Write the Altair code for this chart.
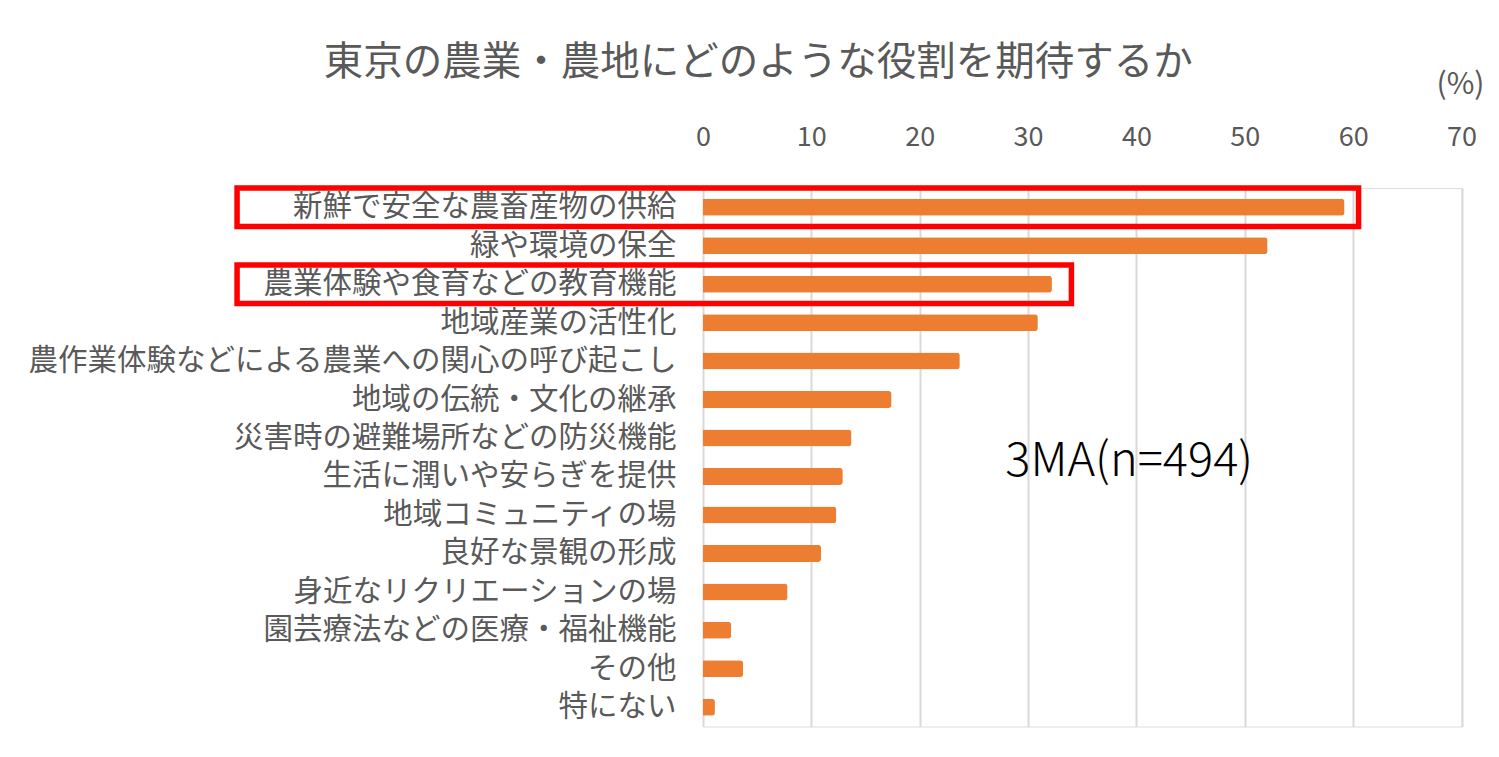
import altair as alt
import pandas as pd

categories = [
    "新鮮で安全な農畜産物の供給",
    "緑や環境の保全",
    "農業体験や食育などの教育機能",
    "地域産業の活性化",
    "農作業体験などによる農業への関心の呼び起こし",
    "地域の伝統・文化の継承",
    "災害時の避難場所などの防災機能",
    "生活に潤いや安らぎを提供",
    "地域コミュニティの場",
    "良好な景観の形成",
    "身近なリクリエーションの場",
    "園芸療法などの医療・福祉機能",
    "その他",
    "特にない",
]
values = [59.2, 52.1, 32.2, 30.9, 23.7, 17.4, 13.7, 12.9, 12.3, 10.9, 7.8, 2.6, 3.7, 1.1]
x_ticks = [0, 10, 20, 30, 40, 50, 60, 70]

highlight_categories = ["新鮮で安全な農畜産物の供給", "農業体験や食育などの教育機能"]
highlight_start = [-43.0, -43.0]
highlight_end = [60.5, 34.0]

note_text = ["3MA(n=494)"]
note_category = ["生活に潤いや安らぎを提供"]
note_x = [27.9]

title_text = "東京の農業・農地にどのような役割を期待するか"
unit_text = "(%)"

FONT = "Noto Sans CJK JP"
GRAY = "#595959"

bars_df = pd.DataFrame({"category": categories, "value": values})
hl_df = pd.DataFrame({"category": highlight_categories, "start": highlight_start, "end": highlight_end})
note_df = pd.DataFrame({"category": note_category, "x": note_x, "label": note_text})

y_axis = alt.Axis(
    title=None, domain=False, ticks=False, labelFontSize=29.5, labelColor=GRAY,
    labelPadding=27, labelLimit=1000, labelFont=FONT, grid=False,
)
x_scale = alt.Scale(domain=[0, 70], nice=False)
y_scale = alt.Scale(paddingInner=0, paddingOuter=0)

x_axis = alt.Axis(
    orient="top", values=x_ticks, domain=False, ticks=False, grid=True,
    gridColor="#d9d9d9", gridWidth=2, labelFontSize=27, labelColor=GRAY,
    labelPadding=37, labelFont=FONT, labelFlush=False, labelOverlap=False,
    title=unit_text, titleFontSize=30, titleColor=GRAY, titleFontWeight="normal",
    titleFont=FONT, titleX=757, titleY=-104, titleAlign="center", titleBaseline="middle",
    titleAngle=0,
)

bars = alt.Chart(bars_df).mark_bar(color="#ED7D31", size=17, cornerRadiusEnd=3).encode(
    x=alt.X("value:Q", scale=x_scale, axis=x_axis),
    y=alt.Y("category:N", sort=categories, scale=y_scale, axis=y_axis),
)

boxes = alt.Chart(hl_df).mark_rect(
    fillOpacity=0, stroke="#FF0000", strokeWidth=5.5, clip=False
).encode(
    x=alt.X("start:Q", scale=x_scale),
    x2="end:Q",
    y=alt.Y("category:N", sort=categories, scale=y_scale, axis=y_axis),
)

note = alt.Chart(note_df).mark_text(
    align="left", baseline="middle", fontSize=47, fontWeight=300, color="#000000",
    font=FONT, dy=-14,
).encode(
    x=alt.X("x:Q", scale=x_scale),
    y=alt.Y("category:N", sort=categories, scale=y_scale, axis=y_axis),
    text="label:N",
)

chart = alt.layer(bars, boxes, note).properties(
    width=758.5,
    height=538.5,
    title=alt.TitleParams(
        text=title_text, fontSize=39.5, color=GRAY, font=FONT, fontWeight="normal",
        anchor="middle", dx=-324, offset=-14,
    ),
    autosize=alt.AutoSizeParams(type="none"),
    padding={"left": 695, "top": 180, "right": 29, "bottom": 25},
).configure_view(stroke=None).configure(font=FONT)

chart.save("out.html", embed_options={"renderer": "svg", "actions": False})
